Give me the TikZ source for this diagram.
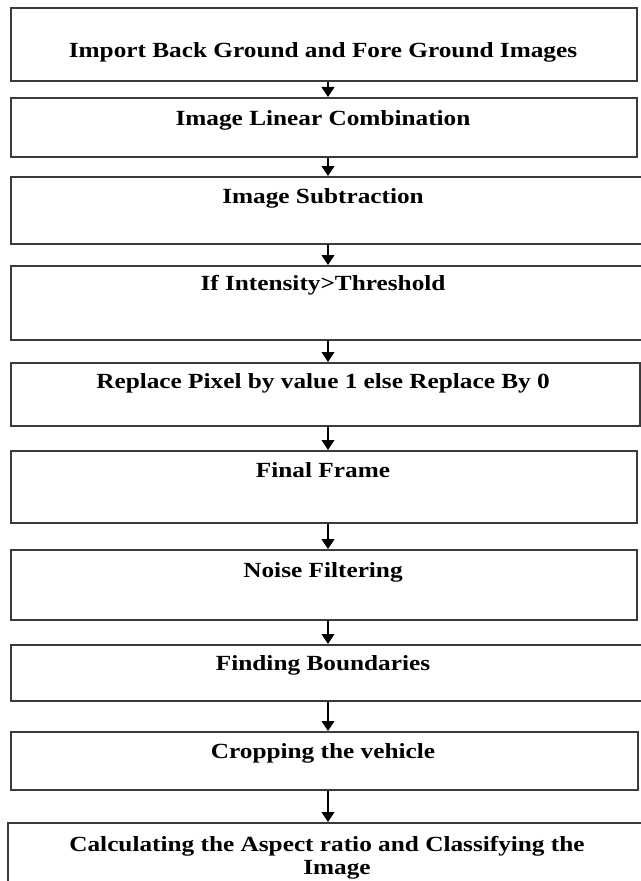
\documentclass[tikz,border=0pt]{standalone}
\usepackage{fontspec}
\usepackage{graphicx}
\setmainfont{Liberation Serif}
\usetikzlibrary{arrows.meta}
\definecolor{boxgray}{HTML}{3A3A3A}
\begin{document}
\begin{tikzpicture}[x=0.75pt,y=-0.75pt,
  box/.style={draw=boxgray, line width=1.2pt, rectangle, inner sep=0pt, anchor=north west},
  lbl/.style={anchor=base, inner sep=0pt, font=\fontsize{16.2}{19}\selectfont\bfseries},
  flow/.style={-{Triangle[width=9.5pt,length=7.5pt]}, line width=1.5pt}]
\useasboundingbox (0,0) rectangle (640,881);
\coordinate (ax) at (328,0);
% boxes
\node[box, minimum width=469.5pt,  minimum height=54.75pt] (b1)  at (10,7)   {};
\node[box, minimum width=469.5pt,  minimum height=44.25pt] (b2)  at (10,97)  {};
\node[box, minimum width=473.25pt, minimum height=50.25pt] (b3)  at (10,176) {};
\node[box, minimum width=473.25pt, minimum height=55.5pt]  (b4)  at (10,265) {};
\node[box, minimum width=471.75pt, minimum height=47.25pt] (b5)  at (10,362) {};
\node[box, minimum width=469.5pt,  minimum height=54pt]    (b6)  at (10,450) {};
\node[box, minimum width=469.5pt,  minimum height=52.5pt]  (b7)  at (10,549) {};
\node[box, minimum width=473.25pt, minimum height=42pt]    (b8)  at (10,644) {};
\node[box, minimum width=470.25pt, minimum height=43.5pt]  (b9)  at (10,731) {};
\node[box, minimum width=476.25pt, minimum height=45.75pt] (b10) at (7,822)  {};
% labels
\node[lbl] (t1)  at (323,58)  {\scalebox{1.17}[1]{Import Back Ground and Fore Ground Images}};
\node[lbl] (t2)  at (323,125) {\scalebox{1.17}[1]{Image Linear Combination}};
\node[lbl] (t3)  at (323,203) {\scalebox{1.17}[1]{Image Subtraction}};
\node[lbl] (t4)  at (323,290) {\scalebox{1.17}[1]{If Intensity>Threshold}};
\node[lbl] (t5)  at (323,388) {\scalebox{1.17}[1]{Replace Pixel by value 1 else Replace By 0}};
\node[lbl] (t6)  at (323,477) {\scalebox{1.17}[1]{Final Frame}};
\node[lbl] (t7)  at (323,577) {\scalebox{1.17}[1]{Noise Filtering}};
\node[lbl] (t8)  at (323,670) {\scalebox{1.17}[1]{Finding Boundaries}};
\node[lbl] (t9)  at (323,758) {\scalebox{1.17}[1]{Cropping the vehicle}};
\node[lbl] (t10) at (327,851) {\scalebox{1.17}[1]{Calculating the Aspect ratio and Classifying the}};
\node[lbl] (t10b) at (337,874) {\scalebox{1.17}[1]{Image}};
% arrows
\draw[flow] (b1.south -| ax) -- (b2.north -| ax);
\draw[flow] (b2.south -| ax) -- (b3.north -| ax);
\draw[flow] (b3.south -| ax) -- (b4.north -| ax);
\draw[flow] (b4.south -| ax) -- (b5.north -| ax);
\draw[flow] (b5.south -| ax) -- (b6.north -| ax);
\draw[flow] (b6.south -| ax) -- (b7.north -| ax);
\draw[flow] (b7.south -| ax) -- (b8.north -| ax);
\draw[flow] (b8.south -| ax) -- (b9.north -| ax);
\draw[flow] (b9.south -| ax) -- (b10.north -| ax);
\end{tikzpicture}
\end{document}
